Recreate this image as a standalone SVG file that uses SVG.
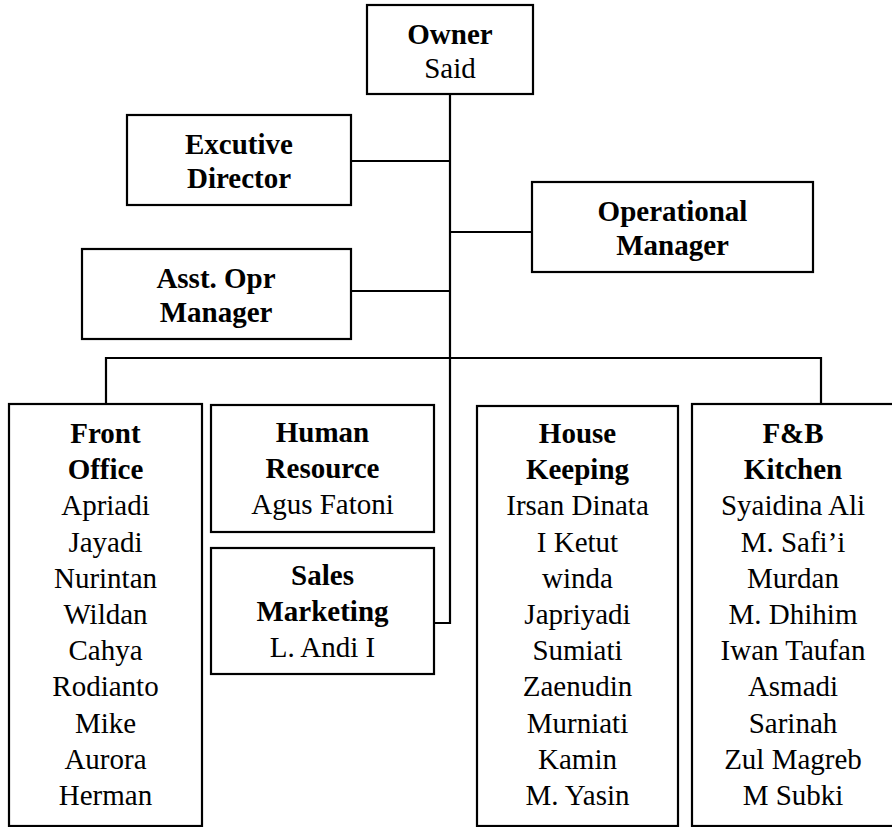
<svg xmlns="http://www.w3.org/2000/svg" width="892" height="827" viewBox="0 0 892 827">
<style>
.box{fill:#fff;stroke:#000;stroke-width:2.2}
.ln{fill:none;stroke:#000;stroke-width:2.2}
text{font-family:'Liberation Serif','Times New Roman',serif;font-size:29px;fill:#000;text-anchor:middle}
.b{font-weight:bold}
</style>
<rect width="892" height="827" fill="#fff"/>
<g id="connectors">
<path class="ln" d="M450 94 V623 H434"/>
<path class="ln" d="M351 161 H450"/>
<path class="ln" d="M450 232 H532"/>
<path class="ln" d="M351 291 H450"/>
<path class="ln" d="M106 404 V358 H821 V404"/>
</g>
<g id="owner">
<rect class="box" x="367" y="5" width="166" height="89"/>
<text x="450" y="44" class="b">Owner</text>
<text x="450" y="78">Said</text>
</g>
<g id="executive-director">
<rect class="box" x="127" y="115" width="224" height="90"/>
<text x="239" y="154" class="b">Excutive</text>
<text x="239" y="188" class="b">Director</text>
</g>
<g id="operational-manager">
<rect class="box" x="532" y="182" width="281" height="90"/>
<text x="672.5" y="221" class="b">Operational</text>
<text x="672.5" y="255" class="b">Manager</text>
</g>
<g id="asst-opr-manager">
<rect class="box" x="82" y="249" width="269" height="90"/>
<text x="216" y="288" class="b">Asst. Opr</text>
<text x="216" y="322" class="b">Manager</text>
</g>
<g id="front-office">
<rect class="box" x="9" y="404" width="193" height="422"/>
<text x="105.5" y="443" class="b">Front</text>
<text x="105.5" y="479.2" class="b">Office</text>
<text x="105.5" y="515.4">Apriadi</text>
<text x="105.5" y="551.6">Jayadi</text>
<text x="105.5" y="587.8">Nurintan</text>
<text x="105.5" y="624">Wildan</text>
<text x="105.5" y="660.2">Cahya</text>
<text x="105.5" y="696.4">Rodianto</text>
<text x="105.5" y="732.6">Mike</text>
<text x="105.5" y="768.8">Aurora</text>
<text x="105.5" y="805">Herman</text>
</g>
<g id="human-resource">
<rect class="box" x="211" y="405" width="223" height="127"/>
<text x="322.5" y="442" class="b">Human</text>
<text x="322.5" y="478" class="b">Resource</text>
<text x="322.5" y="514">Agus Fatoni</text>
</g>
<g id="sales-marketing">
<rect class="box" x="211" y="548" width="223" height="126"/>
<text x="322.5" y="585" class="b">Sales</text>
<text x="322.5" y="621" class="b">Marketing</text>
<text x="322.5" y="657">L. Andi I</text>
</g>
<g id="house-keeping">
<rect class="box" x="477" y="406" width="201" height="420"/>
<text x="577.5" y="443" class="b">House</text>
<text x="577.5" y="479.2" class="b">Keeping</text>
<text x="577.5" y="515.4">Irsan Dinata</text>
<text x="577.5" y="551.6">I Ketut</text>
<text x="577.5" y="587.8">winda</text>
<text x="577.5" y="624">Japriyadi</text>
<text x="577.5" y="660.2">Sumiati</text>
<text x="577.5" y="696.4">Zaenudin</text>
<text x="577.5" y="732.6">Murniati</text>
<text x="577.5" y="768.8">Kamin</text>
<text x="577.5" y="805">M. Yasin</text>
</g>
<g id="fb-kitchen">
<rect class="box" x="692" y="404" width="202" height="422"/>
<text x="793" y="443" class="b">F&amp;B</text>
<text x="793" y="479.2" class="b">Kitchen</text>
<text x="793" y="515.4">Syaidina Ali</text>
<text x="793" y="551.6">M. Safi’i</text>
<text x="793" y="587.8">Murdan</text>
<text x="793" y="624">M. Dhihim</text>
<text x="793" y="660.2">Iwan Taufan</text>
<text x="793" y="696.4">Asmadi</text>
<text x="793" y="732.6">Sarinah</text>
<text x="793" y="768.8">Zul Magreb</text>
<text x="793" y="805">M Subki</text>
</g>
</svg>
